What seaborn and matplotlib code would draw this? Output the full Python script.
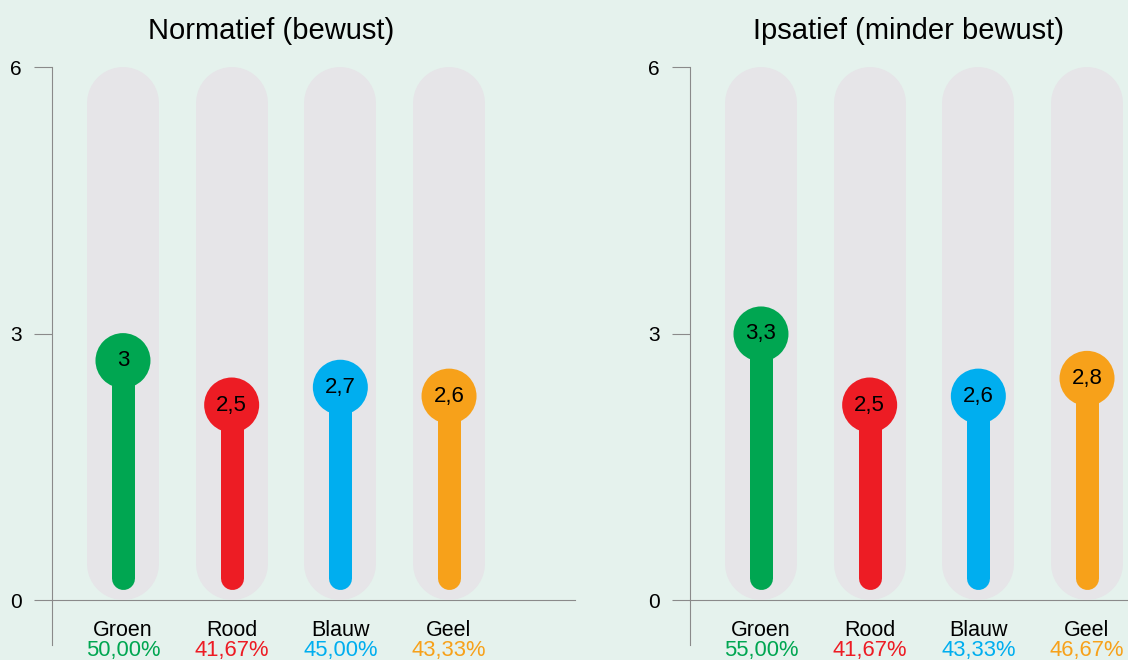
import numpy as np
import pandas as pd
import matplotlib
matplotlib.use("Agg")
import matplotlib.pyplot as plt
import matplotlib.transforms as mtransforms
import seaborn as sns

# --- data ---
categories = ["Groen", "Rood", "Blauw", "Geel"]
colors = ["#00a651", "#ed1c24", "#00aeef", "#f7a11a"]
titles = ["Normatief (bewust)", "Ipsatief (minder bewust)"]
normatief_scores = [3.0, 2.5, 2.7, 2.6]
normatief_labels = ["3", "2,5", "2,7", "2,6"]
normatief_pct = ["50,00%", "41,67%", "45,00%", "43,33%"]
ipsatief_scores = [3.3, 2.5, 2.6, 2.8]
ipsatief_labels = ["3,3", "2,5", "2,6", "2,8"]
ipsatief_pct = ["55,00%", "41,67%", "43,33%", "46,67%"]
y_max = 6
y_ticks = [0, 3, 6]

# --- style ---
bg = "#e5f2ed"
pill_grey = "#e6e5e8"
axis_grey = "#8a8a8a"
sns.set_style("white")
plt.rcParams["font.family"] = ["Liberation Sans", "DejaVu Sans"]

fig = plt.figure(figsize=(11.28, 6.6), dpi=100)
fig.patch.set_facecolor(bg)

W, H = 1128, 660
px_per_x = 108.67
px_per_y = 88.8
ylim = (-60 / px_per_y, 600 / px_per_y)
xlim = (-0.653, 4.159)

pill_r = 36 / px_per_y          # rounded end radius (data y units)
circle_r = 27 / px_per_y        # circle radius (data y units)
stem_r = 11.5 / px_per_y

panels = [
    (52, titles[0], normatief_scores, normatief_labels, normatief_pct),
    (690, titles[1], ipsatief_scores, ipsatief_labels, ipsatief_pct),
]

for left_px, title, scores, labels, pcts in panels:
    ax = fig.add_axes([left_px / W, 0, 523 / W, 1])
    ax.set_facecolor("none")
    ax.set_xlim(*xlim)
    ax.set_ylim(*ylim)

    xs = np.arange(len(categories))
    df = pd.DataFrame({"x": xs, "score": scores, "cat": categories})
    df["centre"] = df["score"] - circle_r

    # grey pill backgrounds, 0..6
    for x in xs:
        ax.plot([x, x], [pill_r, y_max - pill_r], color=pill_grey, lw=72 * 0.72,
                solid_capstyle="round", zorder=1)

    # coloured stems
    for x, c, yc in zip(xs, colors, df["centre"]):
        ax.plot([x, x], [0.113 + stem_r, yc], color=c, lw=23 * 0.72,
                solid_capstyle="round", zorder=2)

    # circles
    sns.scatterplot(data=df, x="x", y="centre", hue="cat", palette=colors,
                    s=(55 * 0.72) ** 2, linewidth=0, legend=False, ax=ax, zorder=3)

    for x, yc, lab in zip(xs, df["centre"], labels):
        ax.text(x, yc, lab, ha="center", va="center", fontsize=16, color="black", zorder=4)

    # category labels + percentages
    for x, cat, pct, c in zip(xs, categories, pcts, colors):
        ax.text(x, -0.34, cat, ha="center", va="center", fontsize=15.5, color="black")
        ax.text(x, -0.57, pct, ha="center", va="center", fontsize=15.8, color=c)

    # title
    trans = mtransforms.blended_transform_factory(ax.transData, ax.transAxes)
    ax.text(1.36, 1 - 31 / H, title, transform=trans, ha="center", va="center",
            fontsize=21, color="black")

    # axes
    ax.set_xlabel("")
    ax.set_ylabel("")
    ax.set_xticks([])
    ax.set_yticks(y_ticks)
    ax.set_yticklabels([str(t) for t in y_ticks], fontsize=15)
    ax.tick_params(axis="y", left=True, length=18 * 0.72, width=0.8,
                   color=axis_grey, labelcolor="black", pad=9)
    for s in ["top", "right"]:
        ax.spines[s].set_visible(False)
    ax.spines["left"].set_color(axis_grey)
    ax.spines["left"].set_linewidth(0.8)
    ax.spines["left"].set_bounds(-45 / px_per_y, y_max)
    ax.spines["bottom"].set_position(("data", 0))
    ax.spines["bottom"].set_color(axis_grey)
    ax.spines["bottom"].set_linewidth(0.8)
    ax.spines["bottom"].set_zorder(0)

fig.savefig("out.png", dpi=100, facecolor=bg)
